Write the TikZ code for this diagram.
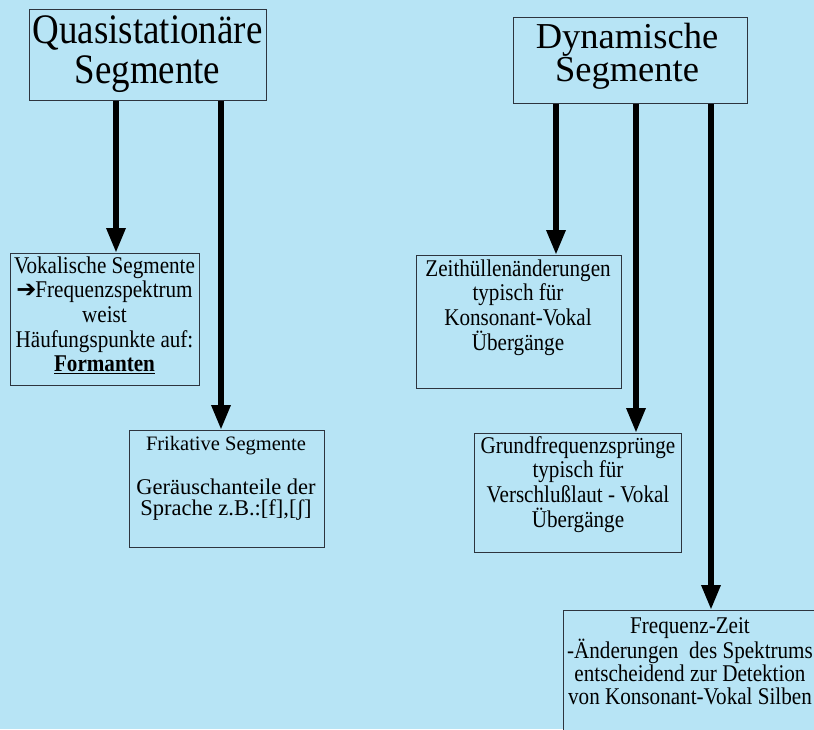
\documentclass[tikz,border=0pt]{standalone}
\usepackage{fontspec}
\setmainfont{Liberation Serif}
\newfontfamily\narrowfont{Liberation Serif}[FakeStretch=0.88]
\newfontfamily\symfont{DejaVu Sans}
\usetikzlibrary{arrows.meta}
\definecolor{bg}{RGB}{183,228,245}
\definecolor{edge}{RGB}{45,52,62}
\tikzset{
  box/.style={draw=edge, line width=1.2pt, fill=bg, anchor=north west, inner sep=0pt},
  txt/.style={anchor=north, inner sep=0pt, align=center, text=black},
  small/.style={txt, font=\narrowfont\fontsize{24}{24.6}\selectfont},
  bigarrow/.style={line width=6pt, -{Triangle[length=25pt,width=18pt]}, black}
}
\newcommand{\topstrut}{\rule{0pt}{0.95em}}
\begin{document}
\begin{tikzpicture}[x=1pt,y=-1pt]
\fill[bg] (0,0) rectangle (814,729);
\useasboundingbox (0,0) rectangle (814,729);
\clip (0,0) rectangle (814,729);

% boxes
\node[box, minimum width=237pt, minimum height=91pt] (q) at (29,9) {};
\node[box, minimum width=234pt, minimum height=86pt] (d) at (513,17) {};
\node[box, minimum width=189pt, minimum height=132pt] (vok) at (10,253) {};
\node[box, minimum width=195pt, minimum height=117pt] (fri) at (129,430) {};
\node[box, minimum width=205pt, minimum height=133pt] (zeit) at (416,255) {};
\node[box, minimum width=207pt, minimum height=119pt] (grund) at (474,433) {};
\node[box, minimum width=270pt, minimum height=140pt] (fz) at (563,610) {};

% texts
\node[txt, font=\narrowfont\fontsize{42}{40}\selectfont] (qt) at (147.5,3.1)
  {\topstrut Quasistationäre\\Segmente};
\node[txt, font=\fontsize{36.5}{32}\selectfont] (dt) at (627,13.3)
  {\topstrut Dynamische\\Segmente};
\node[small] (vokt) at (104.5,250.2)
  {\topstrut Vokalische Segmente\\{\symfont\bfseries\fontsize{24}{24}\selectfont ➔}\hspace{-1pt}Frequenzspektrum\\weist\\Häufungspunkte auf:\\\underline{\textbf{Formanten}}};
\node[txt, font=\fontsize{22.5}{21}\selectfont] (frit) at (226,428.5)
  {\topstrut{\fontsize{20.5}{21}\selectfont Frikative Segmente}\\[23pt]Geräuschanteile der\\Sprache z.B.:[f],[ʃ]};
\node[small] (zeitt) at (518,253.2)
  {\topstrut Zeithüllenänderungen\\typisch für\\Konsonant-Vokal\\Übergänge};
\node[small] (grundt) at (578,430.2)
  {\topstrut Grundfrequenzsprünge\\typisch für\\Verschlußlaut - Vokal\\Übergänge};
\node[small, font=\narrowfont\fontsize{24}{23}\selectfont] (fzt) at (690,610.2)
  {\topstrut Frequenz-Zeit\\-Änderungen\ \ des Spektrums\\entscheidend zur Detektion\\von Konsonant-Vokal Silben};

% arrows
\coordinate (a1) at (116,0);
\coordinate (a2) at (221,0);
\coordinate (b1) at (556,0);
\coordinate (b2) at (636,0);
\coordinate (b3) at (711,0);
\draw[bigarrow] (q.south -| a1) -- (vok.north -| a1);
\draw[bigarrow] (q.south -| a2) -- (fri.north -| a2);
\draw[bigarrow] (d.south -| b1) -- (zeit.north -| b1);
\draw[bigarrow] (d.south -| b2) -- (grund.north -| b2);
\draw[bigarrow] (d.south -| b3) -- (fz.north -| b3);
\end{tikzpicture}
\end{document}
